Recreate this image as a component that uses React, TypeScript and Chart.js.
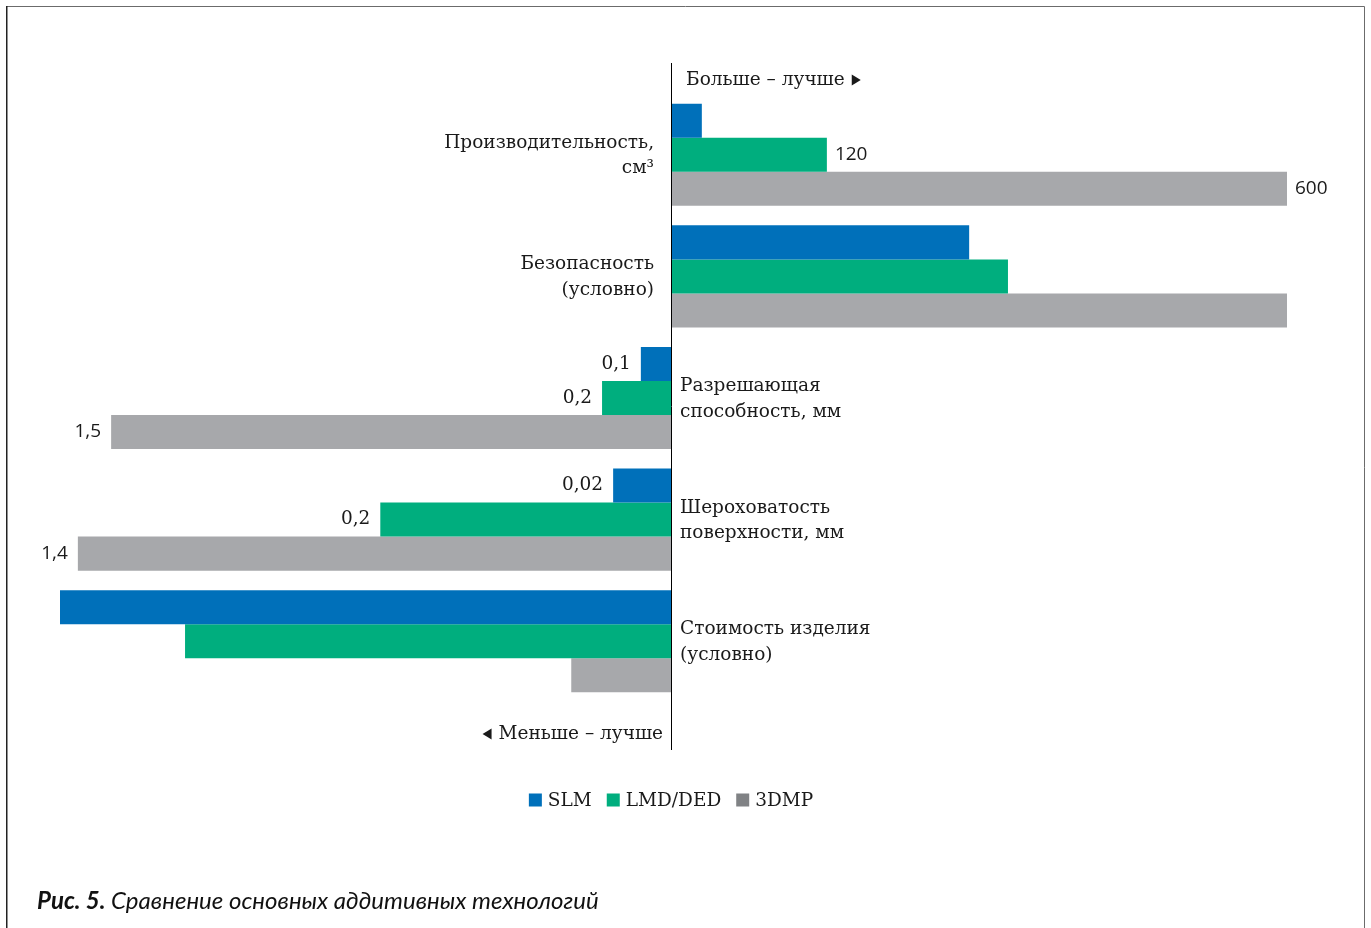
import React, { useEffect, useRef } from "react";
import { Chart, registerables } from "chart.js";

Chart.register(...registerables);

const categories: string[][] = [
  ["Производительность,", "см³"],
  ["Безопасность", "(условно)"],
  ["Разрешающая", "способность, мм"],
  ["Шероховатость", "поверхности, мм"],
  ["Стоимость изделия", "(условно)"],
];
const seriesNames = ["SLM", "LMD/DED", "3DMP"];
// bar lengths in relative (conditional) units, positive = "больше – лучше", negative = "меньше – лучше"
const slmValues = [5.0, 48.4, -4.9, -9.4, -99.2];
const lmdValues = [25.3, 54.7, -11.2, -47.2, -78.9];
const dmpValues = [100, 100, -90.9, -96.3, -16.2];
// printed value labels
const slmLabels = ["", "", "0,1", "0,02", ""];
const lmdLabels = ["120", "", "0,2", "0,2", ""];
const dmpLabels = ["600", "", "1,5", "1,4", ""];
const colors = ["#0070BA", "#00AE7E", "#A7A8AB"];
const legendColors = ["#0070BA", "#00AE7E", "#808285"];
const topNote = "Больше – лучше";
const bottomNote = "Меньше – лучше";
const captionBold = "Рис. 5.";
const captionText = " Сравнение основных аддитивных технологий";

const SERIF = '"DejaVu Serif", serif';
const SANS = '"Open Sans", sans-serif';
const FS = "18.5px ";

export default function App() {
  const ref = useRef<HTMLCanvasElement | null>(null);
  useEffect(() => {
    const canvas = ref.current;
    if (!canvas) return;
    const labelsBySeries = [slmLabels, lmdLabels, dmpLabels];

    const overlay = {
      id: "overlay",
      afterDatasetsDraw(chart: any) {
        const ctx = chart.ctx as CanvasRenderingContext2D;
        const xs = chart.scales.x;
        const ys = chart.scales.y;
        const x0 = xs.getPixelForValue(0);
        ctx.save();
        // frame
        ctx.strokeStyle = "#6b6b6b";
        ctx.lineWidth = 1;
        ctx.beginPath();
        ctx.moveTo(6.5, 940);
        ctx.lineTo(6.5, 6.5);
        ctx.lineTo(1364.5, 6.5);
        ctx.lineTo(1364.5, 940);
        ctx.stroke();
        ctx.fillStyle = "#222";
        ctx.fillRect(6, 6, 1.5, 930);

        // axis line
        ctx.strokeStyle = "#000";
        ctx.beginPath();
        ctx.moveTo(Math.round(x0) + 0.5, ys.top - 31);
        ctx.lineTo(Math.round(x0) + 0.5, ys.bottom + 48);
        ctx.stroke();

        ctx.fillStyle = "#1a1a1a";
        ctx.textBaseline = "middle";
        ctx.font = FS + SERIF;
        // notes
        ctx.textAlign = "left";
        const tx = x0 + 15;
        const ty = ys.top - 14;
        ctx.fillText(topNote, tx, ty);
        const tw = ctx.measureText(topNote).width;
        ctx.beginPath();
        ctx.moveTo(tx + tw + 7, ty - 5.5);
        ctx.lineTo(tx + tw + 7, ty + 5.5);
        ctx.lineTo(tx + tw + 16, ty);
        ctx.closePath();
        ctx.fill();

        ctx.textAlign = "right";
        const bx = x0 - 8;
        const by = ys.bottom + 32;
        ctx.fillText(bottomNote, bx, by);
        const bw = ctx.measureText(bottomNote).width;
        ctx.beginPath();
        ctx.moveTo(bx - bw - 7, by - 5.5);
        ctx.lineTo(bx - bw - 7, by + 5.5);
        ctx.lineTo(bx - bw - 16, by);
        ctx.closePath();
        ctx.fill();

        // category labels
        categories.forEach((lines, i) => {
          const cy = ys.getPixelForValue(i);
          const positive = dmpValues[i] > 0;
          ctx.textAlign = positive ? "right" : "left";
          const lx = positive ? x0 - 17 : x0 + 9;
          const lh = 25.5;
          lines.forEach((ln, k) => {
            ctx.fillText(ln, lx, cy + 1 + (k - (lines.length - 1) / 2) * lh);
          });
        });

        // value labels (the 3DMP series and LMD/DED 120 are set in sans in the original)
        chart.data.datasets.forEach((ds: any, di: number) => {
          const meta = chart.getDatasetMeta(di);
          meta.data.forEach((bar: any, i: number) => {
            const txt = labelsBySeries[di][i];
            if (!txt) return;
            const v = ds.data[i];
            const sans = di === 2 || txt === "120";
            ctx.font = sans ? "19px " + SANS : FS + SERIF;
            if (v >= 0) {
              ctx.textAlign = "left";
              ctx.fillText(txt, bar.x + 8, bar.y);
            } else {
              ctx.textAlign = "right";
              ctx.fillText(txt, bar.x - 10, bar.y);
            }
          });
        });

        // legend
        ctx.font = FS + SERIF;
        ctx.textAlign = "left";
        const ly = 800;
        const widths = seriesNames.map((n) => ctx.measureText(n).width);
        const gap = 15;
        const box = 13;
        const total = widths.reduce((a, w) => a + box + 6 + w, 0) + gap * (seriesNames.length - 1);
        let lx = x0 - total / 2;
        seriesNames.forEach((n, i) => {
          ctx.fillStyle = legendColors[i];
          ctx.fillRect(lx, ly - box / 2, box, box);
          ctx.fillStyle = "#1a1a1a";
          ctx.fillText(n, lx + box + 6, ly + 1);
          lx += box + 6 + widths[i] + gap;
        });

        // caption
        ctx.textBaseline = "alphabetic";
        ctx.font = "italic bold 24px Lato, sans-serif";
        ctx.fillStyle = "#111";
        ctx.fillText(captionBold, 37, 909);
        const cw = ctx.measureText(captionBold).width;
        ctx.font = "italic 24px Lato, sans-serif";
        ctx.fillText(captionText, 37 + cw, 909);
        ctx.restore();
      },
    };

    const chart = new Chart(canvas, {
      type: "bar",
      data: {
        labels: categories.map((c) => c.join(" ")),
        datasets: [
          { label: seriesNames[0], data: slmValues, backgroundColor: colors[0] },
          { label: seriesNames[1], data: lmdValues, backgroundColor: colors[1] },
          { label: seriesNames[2], data: dmpValues, backgroundColor: colors[2] },
        ],
      },
      options: {
        indexAxis: "y",
        responsive: false,
        animation: false,
        layout: { padding: { left: 60, right: 84, top: 94, bottom: 226 } },
        datasets: { bar: { barPercentage: 1, categoryPercentage: 0.84, borderWidth: 0 } },
        scales: {
          x: { display: false, min: -99.2, max: 100 },
          y: { display: false },
        },
        plugins: { legend: { display: false }, tooltip: { enabled: false } },
      },
      plugins: [overlay],
    });
    return () => chart.destroy();
  }, []);
  return (
    <canvas
      ref={ref}
      width={1371}
      height={928}
      style={{ position: "fixed", left: 0, top: 0, width: 1371, height: 928, background: "#fff" }}
    />
  );
}
